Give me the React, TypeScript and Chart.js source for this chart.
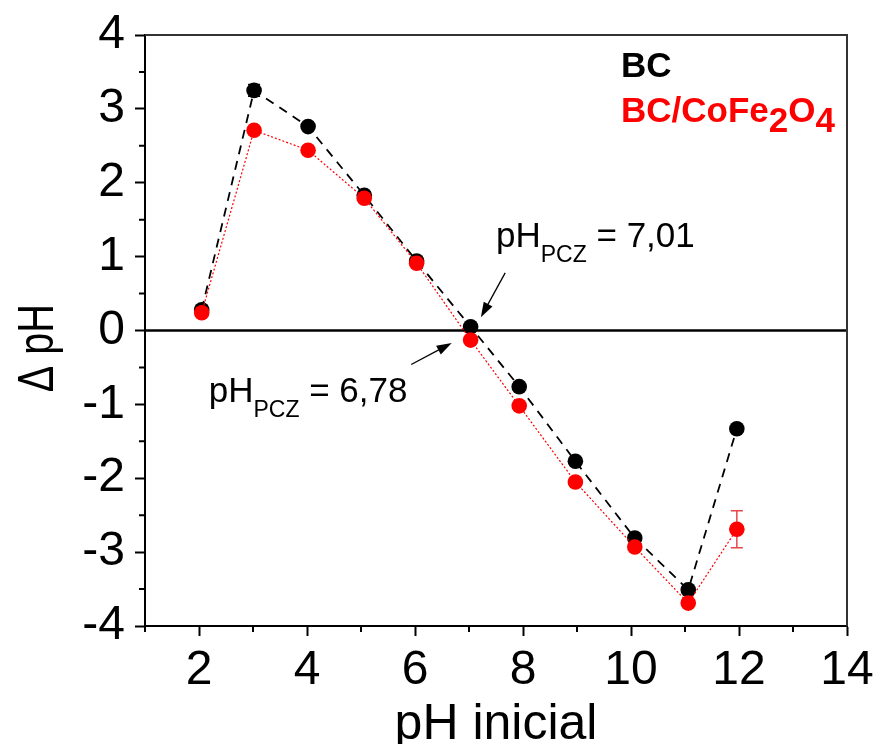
import React, { useEffect, useRef } from 'react';
import { Chart, registerables } from 'chart.js';

Chart.register(...registerables);

// ---- data ----
const phInicialBC = [2.05, 3.02, 4.02, 5.06, 6.03, 7.03, 7.93, 8.97, 10.07, 11.06, 11.96];
const deltaBC = [0.28, 3.25, 2.76, 1.83, 0.94, 0.05, -0.76, -1.77, -2.81, -3.51, -1.33];
const errBC = [0.05, 0.08, 0.03, 0.05, 0.04, 0.02, 0.02, 0.02, 0.03, 0.03, 0.02];

const phInicialComp = [2.05, 3.02, 4.02, 5.06, 6.03, 7.03, 7.93, 8.97, 10.07, 11.06, 11.96];
const deltaComp = [0.24, 2.71, 2.44, 1.79, 0.91, -0.13, -1.02, -2.05, -2.93, -3.69, -2.69];
const errComp = [0.03, 0.03, 0.03, 0.03, 0.03, 0.02, 0.02, 0.02, 0.02, 0.02, 0.25];

const xMajorTicks = [2, 4, 6, 8, 10, 12, 14];
const xMinorTicks = [1, 3, 5, 7, 9, 11, 13];
const yMajorTicks = [-4, -3, -2, -1, 0, 1, 2, 3, 4];
const yMinorTicks = [-3.5, -2.5, -1.5, -0.5, 0.5, 1.5, 2.5, 3.5];

const seriesNames = ['BC', 'BC/CoFe', '2', 'O', '4'];
const xTitle = 'pH inicial';
const yTitle = 'Δ pH';
const pzcBC = { label: 'pH', sub: 'PCZ', rest: ' = 7,01' };
const pzcComp = { label: 'pH', sub: 'PCZ', rest: ' = 6,78' };

const FONT = '"Liberation Sans", Arial, Helvetica, sans-serif';

function drawArrow(ctx: CanvasRenderingContext2D, x1: number, y1: number, x2: number, y2: number) {
  const ang = Math.atan2(y2 - y1, x2 - x1);
  const headLen = 15;
  const headW = 5;
  ctx.save();
  ctx.strokeStyle = '#000';
  ctx.fillStyle = '#000';
  ctx.lineWidth = 1.3;
  ctx.beginPath();
  ctx.moveTo(x1, y1);
  ctx.lineTo(x2 - Math.cos(ang) * headLen * 0.8, y2 - Math.sin(ang) * headLen * 0.8);
  ctx.stroke();
  ctx.beginPath();
  ctx.moveTo(x2, y2);
  ctx.lineTo(x2 - Math.cos(ang) * headLen - Math.sin(ang) * headW, y2 - Math.sin(ang) * headLen + Math.cos(ang) * headW);
  ctx.lineTo(x2 - Math.cos(ang) * headLen + Math.sin(ang) * headW, y2 - Math.sin(ang) * headLen - Math.cos(ang) * headW);
  ctx.closePath();
  ctx.fill();
  ctx.restore();
}

function drawSubLabel(ctx: CanvasRenderingContext2D, x: number, y: number, t: { label: string; sub: string; rest: string }) {
  ctx.save();
  ctx.fillStyle = '#000';
  ctx.textBaseline = 'alphabetic';
  ctx.textAlign = 'left';
  ctx.font = `35px ${FONT}`;
  ctx.fillText(t.label, x, y);
  let cx = x + ctx.measureText(t.label).width;
  ctx.font = `23px ${FONT}`;
  ctx.fillText(t.sub, cx, y + 15);
  cx += ctx.measureText(t.sub).width;
  ctx.font = `35px ${FONT}`;
  ctx.fillText(t.rest, cx, y);
  ctx.restore();
}

const customPlugin = {
  id: 'customDecor',
  beforeDatasetsDraw(chart: any) {
    const { ctx, chartArea, scales } = chart;
    const xs = scales.x;
    const ys = scales.y;
    // zero line
    ctx.save();
    ctx.strokeStyle = '#000';
    ctx.lineWidth = 2.5;
    ctx.beginPath();
    const y0 = ys.getPixelForValue(0);
    ctx.moveTo(chartArea.left, y0);
    ctx.lineTo(chartArea.right, y0);
    ctx.stroke();
    ctx.restore();

    const drawErr = (xv: number[], yv: number[], ev: number[], color: string) => {
      ctx.save();
      ctx.strokeStyle = color;
      ctx.lineWidth = 1.5;
      for (let i = 0; i < xv.length; i++) {
        const px = xs.getPixelForValue(xv[i]);
        const pt = ys.getPixelForValue(yv[i] + ev[i]);
        const pb = ys.getPixelForValue(yv[i] - ev[i]);
        ctx.beginPath();
        ctx.moveTo(px, pt);
        ctx.lineTo(px, pb);
        ctx.moveTo(px - 6, pt);
        ctx.lineTo(px + 6, pt);
        ctx.moveTo(px - 6, pb);
        ctx.lineTo(px + 6, pb);
        ctx.stroke();
      }
      ctx.restore();
    };
    drawErr(phInicialComp, deltaComp, errComp, '#e8474a');
    drawErr(phInicialBC, deltaBC, errBC, '#000');
  },
  afterDraw(chart: any) {
    const { ctx, chartArea, scales } = chart;
    const xs = scales.x;
    const ys = scales.y;
    // frame top & right
    ctx.save();
    ctx.strokeStyle = '#333';
    ctx.lineWidth = 2;
    ctx.beginPath();
    ctx.moveTo(chartArea.left, chartArea.top);
    ctx.lineTo(chartArea.right, chartArea.top);
    ctx.lineTo(chartArea.right, chartArea.bottom);
    ctx.stroke();
    // minor ticks
    ctx.strokeStyle = '#000';
    ctx.lineWidth = 2;
    ctx.beginPath();
    for (const v of xMinorTicks) {
      const px = xs.getPixelForValue(v);
      ctx.moveTo(px, chartArea.bottom);
      ctx.lineTo(px, chartArea.bottom + 6);
    }
    for (const v of yMinorTicks) {
      const py = ys.getPixelForValue(v);
      ctx.moveTo(chartArea.left, py);
      ctx.lineTo(chartArea.left - 6, py);
    }
    ctx.stroke();
    ctx.restore();

    // axis titles
    ctx.save();
    ctx.fillStyle = '#000';
    ctx.textAlign = 'center';
    ctx.textBaseline = 'alphabetic';
    ctx.font = `50px ${FONT}`;
    ctx.fillText(xTitle, (chartArea.left + chartArea.right) / 2, 739);
    ctx.translate(53, ys.getPixelForValue(-0.24));
    ctx.rotate(-Math.PI / 2);
    ctx.scale(0.9, 1.12);
    ctx.font = `44px ${FONT}`;
    ctx.fillText(yTitle, 0, 0);
    ctx.restore();

    // legend text
    ctx.save();
    ctx.textBaseline = 'alphabetic';
    ctx.textAlign = 'left';
    ctx.font = `bold 35px ${FONT}`;
    ctx.fillStyle = '#000';
    const lx = chartArea.left + 476;
    ctx.fillText(seriesNames[0], lx, chartArea.top + 42);
    ctx.fillStyle = '#ff0000';
    let cx = lx;
    const by = chartArea.top + 87;
    const parts: [string, number][] = [
      [seriesNames[1], 0],
      [seriesNames[2], 10],
      [seriesNames[3], 0],
      [seriesNames[4], 10],
    ];
    for (const [s, dy] of parts) {
      ctx.fillText(s, cx, by + dy);
      cx += ctx.measureText(s).width;
    }
    ctx.restore();

    // annotations
    drawSubLabel(ctx, xs.getPixelForValue(7.5), ys.getPixelForValue(1.13), pzcBC);
    drawSubLabel(ctx, xs.getPixelForValue(2.18), ys.getPixelForValue(-0.97), pzcComp);
    drawArrow(ctx, xs.getPixelForValue(7.67), ys.getPixelForValue(0.78), xs.getPixelForValue(7.22), ys.getPixelForValue(0.18));
    drawArrow(ctx, xs.getPixelForValue(5.93), ys.getPixelForValue(-0.46), xs.getPixelForValue(6.68), ys.getPixelForValue(-0.17));
  },
};

export default function App() {
  const canvasRef = useRef<HTMLCanvasElement | null>(null);

  useEffect(() => {
    if (!canvasRef.current) return;
    const chart = new Chart(canvasRef.current, {
      type: 'line',
      data: {
        datasets: [
          {
            label: 'BC/CoFe2O4',
            data: phInicialComp.map((x, i) => ({ x, y: deltaComp[i] })),
            borderColor: '#ff0000',
            backgroundColor: '#ff0000',
            borderWidth: 1.2,
            borderDash: [2, 2],
            pointRadius: 7.8,
            pointBorderWidth: 0,
            pointBackgroundColor: '#ff0000',
            pointBorderColor: '#ff0000',
            tension: 0,
            order: 1,
          },
          {
            label: 'BC',
            data: phInicialBC.map((x, i) => ({ x, y: deltaBC[i] })),
            borderColor: '#000',
            backgroundColor: '#000',
            borderWidth: 1.8,
            borderDash: [9, 7],
            pointRadius: 7.8,
            pointBorderWidth: 0,
            pointBackgroundColor: '#000',
            pointBorderColor: '#000',
            tension: 0,
            order: 2,
          },
        ],
      },
      options: {
        animation: false,
        responsive: true,
        maintainAspectRatio: false,
        layout: { padding: { top: 35, right: 30, left: 0, bottom: 0 } },
        plugins: {
          legend: { display: false },
          tooltip: { enabled: false },
        },
        scales: {
          x: {
            type: 'linear',
            min: 1,
            max: 14,
            afterBuildTicks: (scale: any) => {
              scale.ticks = xMajorTicks.map((v) => ({ value: v }));
            },
            afterFit: (scale: any) => {
              scale.height = 118;
              scale.paddingLeft = 0;
              scale.paddingRight = 0;
            },
            ticks: {
              autoSkip: false,
              maxRotation: 0,
              padding: 6,
              color: '#000',
              font: { family: FONT, size: 48 },
            },
            grid: { drawOnChartArea: false, drawTicks: true, tickLength: 10, tickColor: '#000', tickWidth: 2 },
            border: { display: true, color: '#000', width: 2 },
            title: { display: false, text: xTitle },
          },
          y: {
            type: 'linear',
            min: -4,
            max: 4,
            afterBuildTicks: (scale: any) => {
              scale.ticks = yMajorTicks.map((v) => ({ value: v }));
            },
            afterFit: (scale: any) => {
              scale.width = 145;
              scale.paddingTop = 0;
              scale.paddingBottom = 0;
            },
            ticks: {
              autoSkip: false,
              padding: 10,
              color: '#000',
              font: { family: FONT, size: 48 },
            },
            grid: { drawOnChartArea: false, drawTicks: true, tickLength: 10, tickColor: '#000', tickWidth: 2 },
            border: { display: true, color: '#000', width: 2 },
            title: { display: false, text: yTitle },
          },
        },
      },
      plugins: [customPlugin],
    });
    return () => chart.destroy();
  }, []);

  return (
    <div style={{ position: 'absolute', left: 0, top: 0, width: 877, height: 744, background: '#fff' }}>
      <canvas ref={canvasRef} />
    </div>
  );
}
